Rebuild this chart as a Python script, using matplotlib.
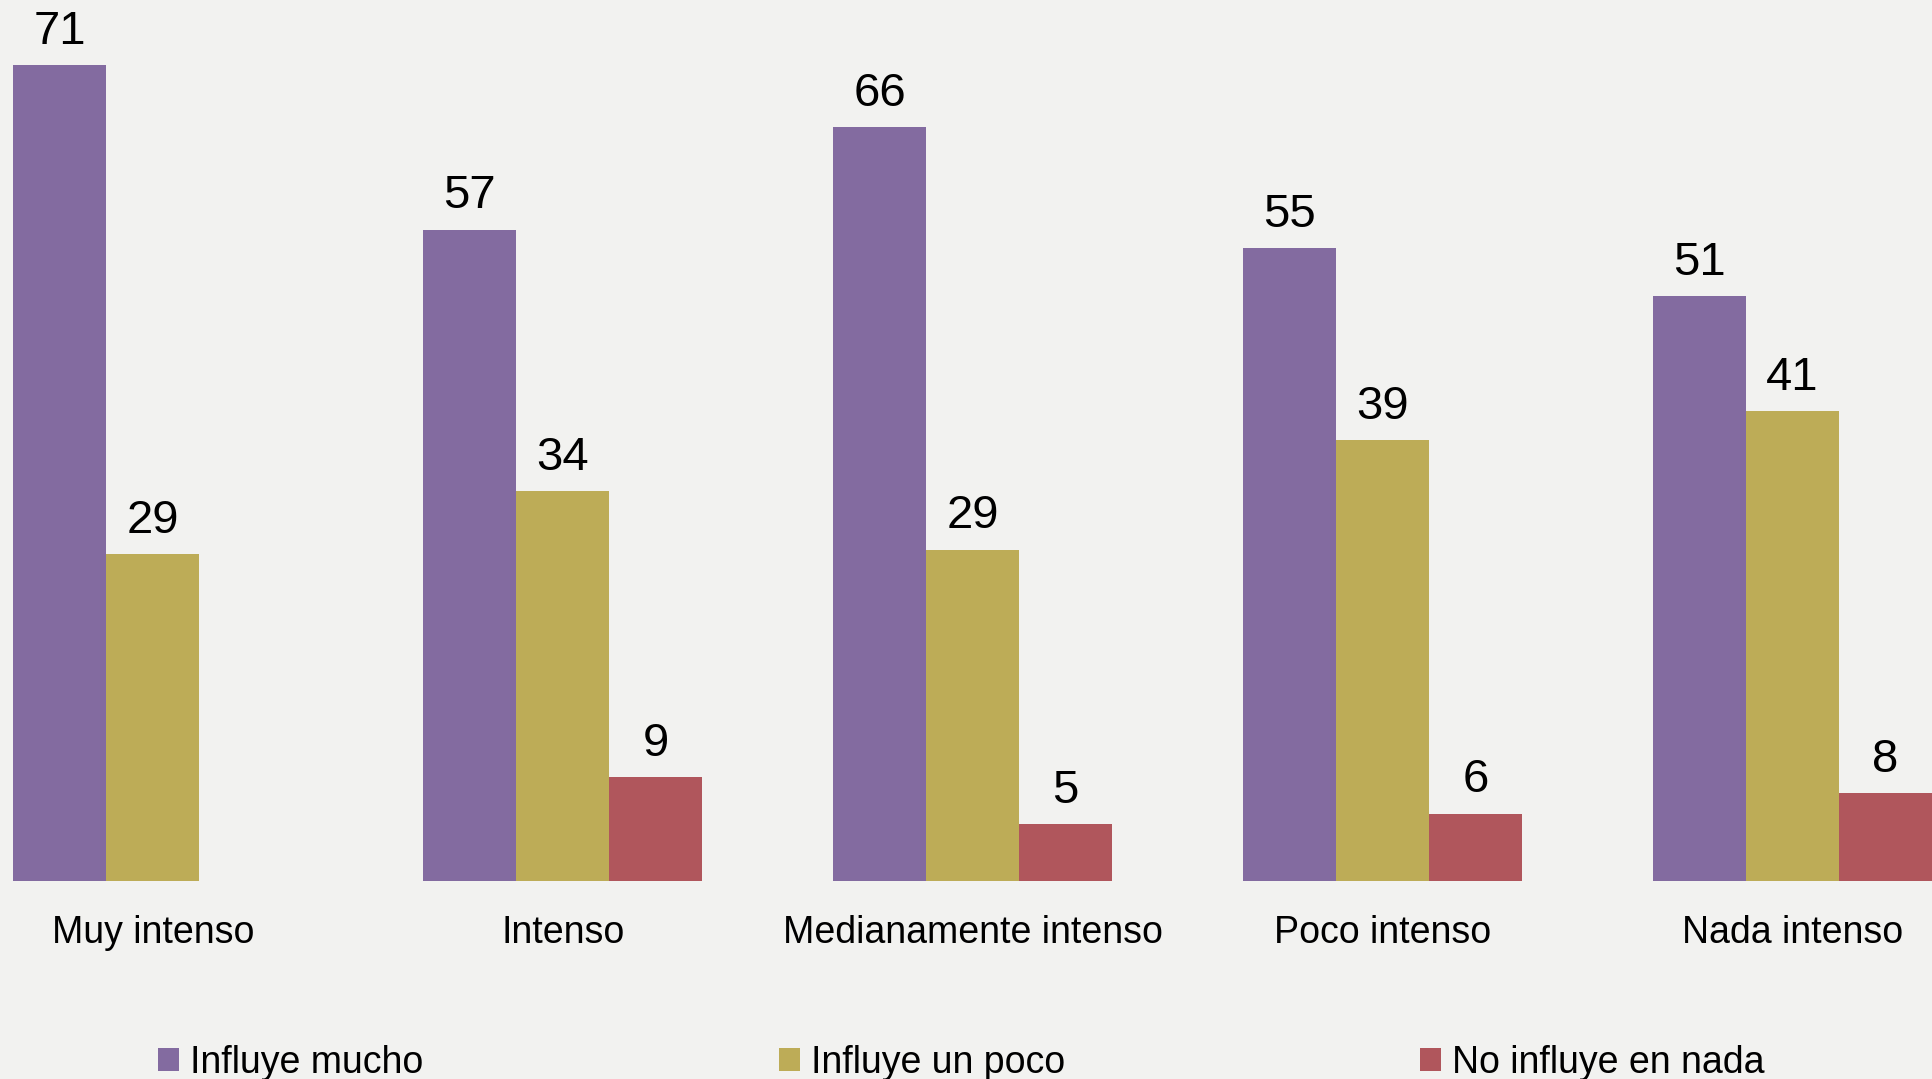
import matplotlib
matplotlib.use("Agg")
import matplotlib.pyplot as plt
import numpy as np

plt.rcParams["font.family"] = ["Liberation Sans", "DejaVu Sans"]

# datos (porcentajes, la etiqueta muestra el valor redondeado)
categorias = ["Muy intenso", "Intenso", "Medianamente intenso", "Poco intenso", "Nada intenso"]
series = ["Influye mucho", "Influye un poco", "No influye en nada"]
influye_mucho = [71.4, 57.0, 66.0, 55.4, 51.2]
influye_poco = [28.6, 34.1, 29.0, 38.6, 41.1]
no_influye = [np.nan, 9.1, 5.0, 5.9, 7.7]

colores = ["#836BA0", "#BDAC57", "#B0565C"]
fondo = "#F2F2F0"

fig = plt.figure(figsize=(19.32, 10.79), dpi=100, facecolor=fondo)
ax = fig.add_axes([0, 0.1835, 1, 0.8165])
ax.set_facecolor(fondo)

x = np.arange(len(categorias))
w = 0.2268
valores = [influye_mucho, influye_poco, no_influye]
for k, (vals, nombre, c) in enumerate(zip(valores, series, colores)):
    v = np.array(vals, dtype=float)
    barras = ax.bar(x + (k - 1) * w, np.nan_to_num(v), w, color=c, label=nombre)
    etiquetas = ["" if np.isnan(a) else f"{a:.0f}" for a in v]
    ax.bar_label(barras, labels=etiquetas, padding=8, fontsize=34, color="black")

ax.set_xlim(-0.373, 4.34)
ax.set_ylim(0, 77.08)
ax.set_xticks(x)
ax.set_xticklabels(categorias, fontsize=27)
ax.tick_params(axis="x", length=0, pad=24.5)
ax.set_yticks([])
for s in ax.spines.values():
    s.set_visible(False)

fig.legend(loc="center left", bbox_to_anchor=(158 / 1932, 0.0148), ncol=3,
           frameon=False, fontsize=27, handlelength=0.56, handleheight=0.56,
           handletextpad=0.3, columnspacing=9.47, borderpad=0, borderaxespad=0)

fig.savefig("out.png", dpi=100, facecolor=fondo)
